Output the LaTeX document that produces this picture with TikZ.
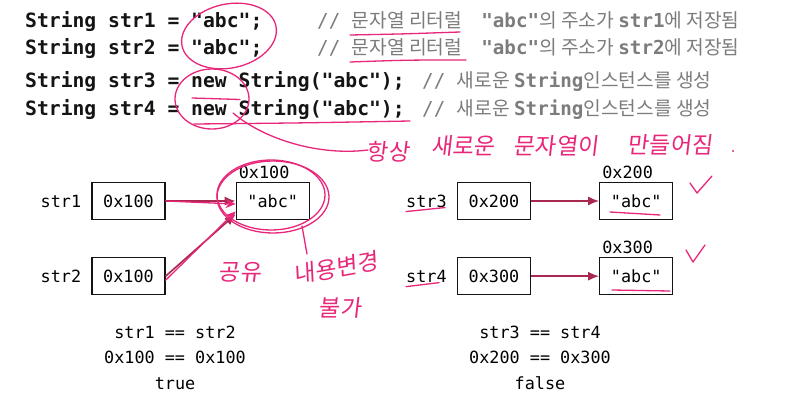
\documentclass[tikz,border=0pt]{standalone}
\usepackage{fontspec}
\setmonofont{DejaVu Sans Mono}
\newfontfamily\notefont{Noto Sans CJK KR}
\newfontfamily\penfont{Noto Sans CJK KR}[FakeSlant=0.12]
\usepackage{tikz}
\usetikzlibrary{arrows.meta,positioning,calc}
\usepackage{xcolor}
\definecolor{Ink}{HTML}{141414}
\definecolor{NoteGray}{HTML}{7C7C7C}
\definecolor{PtrRed}{HTML}{A8284F}
\definecolor{PenPink}{HTML}{E8267A}

\begin{document}
\begin{tikzpicture}[x=1pt,y=-1pt,
  code/.style={anchor=base west,inner sep=0pt,text=Ink,font=\ttfamily\bfseries\fontsize{19.7}{22}\selectfont},
  note/.style={anchor=base west,inner sep=0pt,text=NoteGray,font=\notefont\fontsize{19.2}{22}\selectfont},
  cell/.style={draw=Ink,line width=1.2pt,minimum width=73pt,minimum height=37pt,inner sep=0pt,font=\ttfamily\fontsize{16.8}{19}\selectfont},
  varname/.style={inner sep=0pt,font=\ttfamily\fontsize{16.8}{19}\selectfont},
  addr/.style={inner sep=3pt,font=\ttfamily\fontsize{16.8}{19}\selectfont},
  cmp/.style={anchor=base,inner sep=0pt,font=\ttfamily\fontsize{16.8}{19}\selectfont},
  ptr/.style={draw=PtrRed,line width=1.6pt,-{Latex[length=11pt,width=9pt]}},
  pen/.style={draw=PenPink,line width=1.3pt,line cap=round,line join=round},
  pentext/.style={inner sep=0pt,text=PenPink,font=\penfont\fontsize{23}{27}\selectfont}]
  \fill[white] (0,0) rectangle (797,406);
  \useasboundingbox (0,0) rectangle (797,406);

  % 코드 네 줄과 주석
  \node[code] (line1) at (25,28) {String str1 = "abc";};
  \node[code] (line2) at (25,55) {String str2 = "abc";};
  \node[code] (line3) at (25,88) {String str3 = new String("abc");};
  \node[code] (line4) at (25,116) {String str4 = new String("abc");};
  \node[note] (note1) at (317,28) {{\ttfamily// }문자열 리터럴\hspace{1em}{\ttfamily\bfseries"abc"}의 주소가 {\ttfamily\bfseries str1}에 저장됨};
  \node[note] (note2) at (317,55) {{\ttfamily// }문자열 리터럴\hspace{1em}{\ttfamily\bfseries"abc"}의 주소가 {\ttfamily\bfseries str2}에 저장됨};
  \node[note] (note3) at (422,88) {{\ttfamily// }새로운 {\ttfamily\bfseries String}인스턴스를 생성};
  \node[note] (note4) at (422,116) {{\ttfamily// }새로운 {\ttfamily\bfseries String}인스턴스를 생성};

  % 리터럴: str1, str2가 같은 객체를 가리킴
  \node[cell] (ref1) at (128.5,201) {0x100};
  \node[cell,below=37pt of ref1] (ref2) {0x100};
  \node[cell,right=70pt of ref1] (obj1) {"abc"};
  \node[varname,left=10pt of ref1] (var1) {str1};
  \node[varname,left=10pt of ref2] (var2) {str2};
  \node[addr,above right=0pt and 0pt of obj1.north west] (adr1) {0x100};
  \draw[ptr] (ref1.east) -- (obj1.west);
  \draw[ptr] (ref2.east) -- ($(obj1.west)!0.7!(obj1.south west)$);

  % new: 매번 다른 객체
  \node[cell] (ref3) at (494,201) {0x200};
  \node[cell,below=37pt of ref3] (ref4) {0x300};
  \node[cell,right=68pt of ref3] (obj3) {"abc"};
  \node[cell,right=68pt of ref4] (obj4) {"abc"};
  \node[varname,left=10pt of ref3] (var3) {str3};
  \node[varname,left=10pt of ref4] (var4) {str4};
  \node[addr,above right=0pt and 0pt of obj3.north west] (adr3) {0x200};
  \node[addr,above right=0pt and 0pt of obj4.north west] (adr4) {0x300};
  \draw[ptr] (ref3) -- (obj3);
  \draw[ptr] (ref4) -- (obj4);

  % 비교 결과
  \node[cmp] (cmpA) at (175,338) {str1 == str2};
  \node[cmp] (valA) at (175,363) {0x100 == 0x100};
  \node[cmp] (resA) at (175,389) {true};
  \node[cmp] (cmpB) at (540,338) {str3 == str4};
  \node[cmp] (valB) at (540,363) {0x200 == 0x300};
  \node[cmp] (resB) at (540,389) {false};

  % 손글씨 표시
  \draw[pen,rotate around={12:(229,36)}] (229,36) ellipse [x radius=48,y radius=32];
  \draw[pen] (212,99) ellipse [x radius=37,y radius=30];
  \draw[pen] (192,98) -- (240,99.5);
  \draw[pen] (194,124) .. controls (300,123) .. (410,121);
  \draw[pen] (350,35) .. controls (402,34) .. (460,32);
  \draw[pen] (350,62) .. controls (407,60) .. (466,60);
  \draw[pen] (233,113) .. controls (265,140) and (320,156) .. (368,150);
  \node[pentext] (memo1) at (388,152) {항상};
  \node[pentext] (memo2) at (463,146) {새로운};
  \node[pentext] (memo3) at (556,146) {문자열이};
  \node[pentext] (memo4) at (670,145) {만들어짐};
  \fill[PenPink] (733,151) circle (1.2pt);

  \draw[pen] (273,197) ellipse [x radius=56,y radius=36];
  \draw[pen] (271,195) ellipse [x radius=54,y radius=35];
  \draw[pen,-{Stealth[length=10pt,width=9pt]}] (ref1.east) -- ($(obj1.west)+(0,3)$);
  \draw[pen,-{Stealth[length=10pt,width=9pt]}] ($(ref2.east)+(0,4)$) -- ($(obj1.west)!0.55!(obj1.south west)$);
  \draw[pen] (302,226) -- (307,254);
  \node[pentext] (share) at (240,272) {공유};
  \node[pentext,rotate=10] (fixed1) at (336,268) {내용변경};
  \node[pentext] (fixed2) at (340,308) {불가};

  \draw[pen] (690,183) -- (697,193) -- (712,176);
  \draw[pen] (686,250) -- (693,262) -- (705,245);
  \draw[pen] (var3.south west) ++(0,4) -- ++(39,-4);
  \draw[pen] (var4.south west) ++(0,4) -- ++(33,-4);
  \draw[pen] (610,212) -- (660,215);
  \draw[pen] (612,290) -- (670,291);
\end{tikzpicture}
\end{document}
